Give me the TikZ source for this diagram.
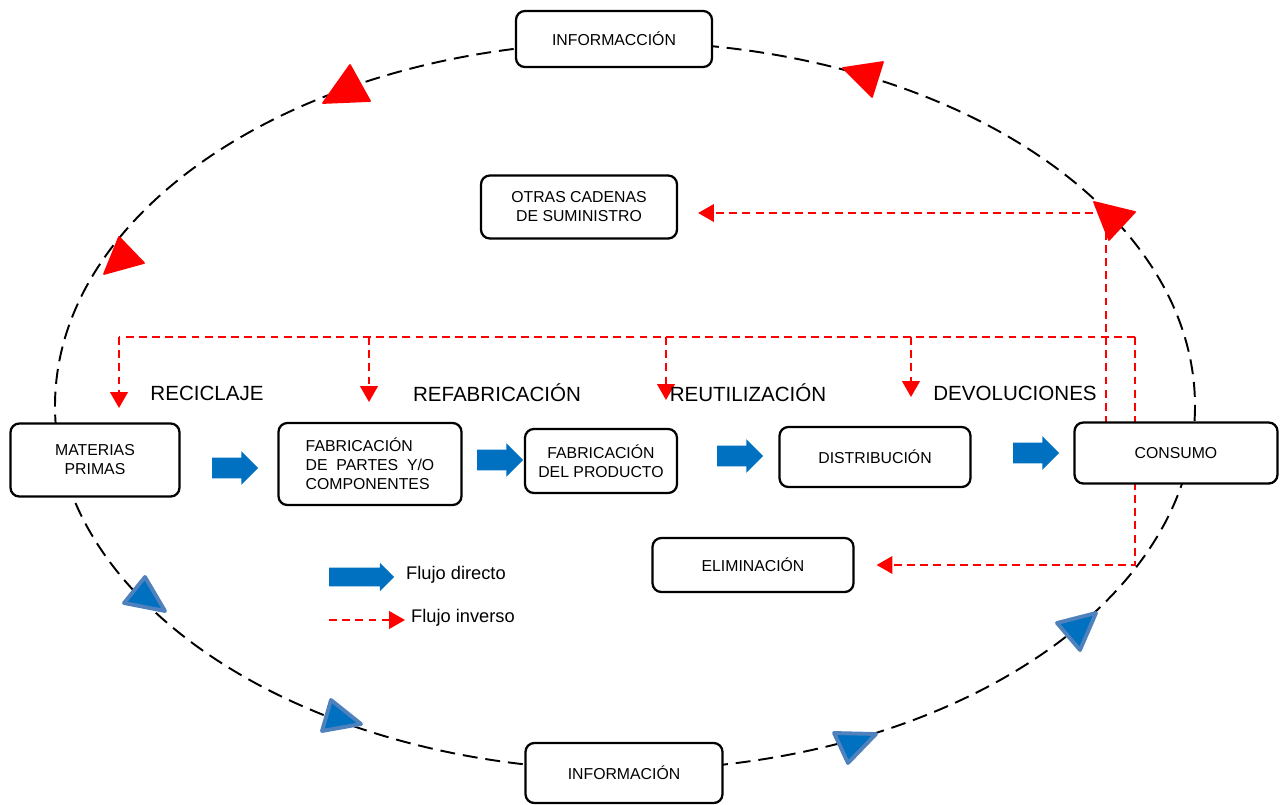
\documentclass[tikz,border=0pt]{standalone}
\usepackage{fontspec}
\setmainfont{Liberation Sans}
\usetikzlibrary{arrows.meta,shapes.arrows}

\definecolor{azul}{RGB}{0,112,192}
\definecolor{azulborde}{RGB}{79,129,189}
\definecolor{rojo}{RGB}{255,0,0}

\tikzset{
  caja/.style={draw, line width=1.3pt, rounded corners=5pt, fill=white, align=center,
    font=\fontsize{9}{10.8}\selectfont, inner sep=2pt},
  directo/.style={single arrow, fill=azul, draw=none, inner xsep=0pt, inner ysep=0.2cm,
    minimum height=0.92cm, single arrow head extend=0.13cm},
  linearoja/.style={rojo, line width=1.1pt, dash pattern=on 4.5pt off 3pt},
  inverso/.style={linearoja, -{Triangle[width=10pt,length=9pt]}},
  etiqueta/.style={font=\fontsize{11.7}{14}\selectfont},
  leyenda/.style={anchor=west, font=\fontsize{10.4}{12}\selectfont},
  flecharoja/.style={fill=rojo, draw=rojo, line width=1pt, line join=round},
  flechaazul/.style={fill=azul, draw=azulborde, line width=2.2pt, line join=round}
}

\begin{document}
\begin{tikzpicture}[x=0.02cm, y=-0.02cm]
  \useasboundingbox (0,0) rectangle (1286,805);

  % ciclo de informacion
  \draw[line width=1.1pt, dash pattern=on 8.5pt off 4.5pt] (625,406) ellipse [x radius=570, y radius=364];
  \foreach \a/\b/\c in {{(350,65)}/{(323,103)}/{(370,101)}, {(843,68)}/{(883,62)}/{(872,97)},
      {(119,237)}/{(104,274)}/{(144,263)}, {(1094,202)}/{(1135,212)}/{(1109,240)}}
    \draw[flecharoja] \a -- \b -- \c -- cycle;
  \foreach \a/\b/\c in {{(145,577)}/{(124,603)}/{(165,611)}, {(331,700)}/{(322,731)}/{(361,724)},
      {(834,733)}/{(876,734)}/{(848,763)}, {(1057,623)}/{(1096,613)}/{(1080,650)}}
    \draw[flechaazul] \a -- \b -- \c -- cycle;

  % flujo inverso
  \coordinate (c1) at (1135,337);
  \coordinate (c2) at (1106,213);
  \draw[linearoja] (c1) -- (119,337);
  \foreach \x/\y in {119/408, 369/402, 666/400, 911/397}
    \draw[inverso] (\x,337) -- (\x,\y);

  \node[caja, minimum width=3.92cm, minimum height=1.12cm] (infoarriba) at (614,39) {INFORMACCIÓN};
  \node[caja, minimum width=3.92cm, minimum height=1.26cm] (otras) at (579,207) {OTRAS CADENAS\\DE SUMINISTRO};
  \node[caja, minimum width=4.02cm, minimum height=1.08cm] (eliminacion) at (753,565) {ELIMINACIÓN};

  \draw[inverso] (c1) -- (c1 |- eliminacion.east) -- ([xshift=0.44cm]eliminacion.east);
  \draw[inverso] (1106,424) -- (c2) -- ([xshift=0.4cm]otras.east |- c2);

  % flujo directo
  \node[caja, minimum width=3.38cm, minimum height=1.46cm] (materias) at (95,460) {MATERIAS\\PRIMAS};
  \node[caja, align=left, minimum width=3.66cm, minimum height=1.64cm] (partes) at (370,464) {FABRICACIÓN\\DE~ PARTES~ Y/O\\COMPONENTES};
  \node[caja, minimum width=3.04cm, minimum height=1.28cm] (producto) at (601,461) {FABRICACIÓN\\DEL PRODUCTO};
  \node[caja, minimum width=3.82cm, minimum height=1.2cm] (distribucion) at (875,457) {DISTRIBUCIÓN};
  \node[caja, minimum width=4.06cm, minimum height=1.22cm] (consumo) at (1176,453) {CONSUMO};
  \node[caja, minimum width=3.94cm, minimum height=1.2cm] (infoabajo) at (624,773) {INFORMACIÓN};

  \node[directo] (d1) at (230,468) {};
  \node[directo] (d2) at (495,460) {};
  \node[directo] (d3) at (735,456) {};
  \node[directo] (d4) at (1031,453) {};

  \node[etiqueta] (reciclaje) at (207,393) {RECICLAJE};
  \node[etiqueta] (refabricacion) at (497,393) {REFABRICACIÓN};
  \node[etiqueta] (reutilizacion) at (748,393) {REUTILIZACIÓN};
  \node[etiqueta] (devoluciones) at (1015,393) {DEVOLUCIONES};

  % leyenda
  \node[directo, minimum height=1.3cm, inner ysep=0.18cm, single arrow head extend=0.1cm] (leydirecto) at (357,577) {};
  \node[leyenda] (txtdirecto) at (400,575) {Flujo directo};
  \node[leyenda] (txtinverso) at (405,618) {Flujo inverso};
  \coordinate (leyinverso) at (329,620);
  \draw[inverso] (leyinverso) -- (txtinverso.west |- leyinverso);
\end{tikzpicture}
\end{document}
